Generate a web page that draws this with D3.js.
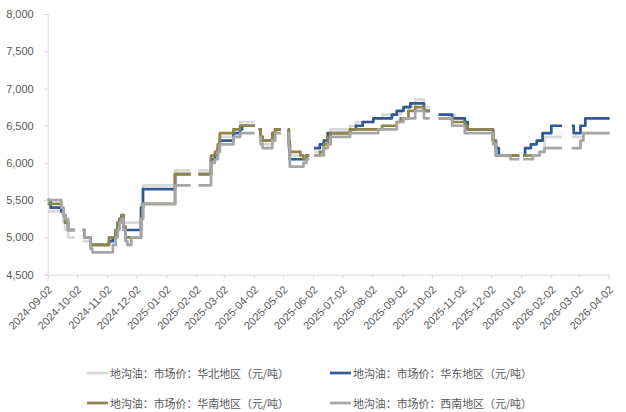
<!DOCTYPE html>
<html>
<head>
<meta charset="utf-8">
<script src="https://cdn.jsdelivr.net/npm/d3@7"></script>
<style>
  body { margin: 0; background: #fff; }
  svg { display: block; }
  .axis text { font-family: "Liberation Sans", Arial, sans-serif; font-size: 11px; fill: #595959; }
  .legend text { font-family: "Noto Sans CJK SC", sans-serif; font-size: 11px; fill: #595959; }
</style>
</head>
<body>
<div id="chart"></div>
<script>
// price data, null = no quote (holidays)
const dates = [
  "2024-09-02","2024-09-05","2024-09-16","2024-09-18","2024-09-20","2024-09-23","2024-09-30","2024-10-03",
  "2024-10-08","2024-10-10","2024-10-16","2024-10-18","2024-11-04","2024-11-08","2024-11-11","2024-11-13",
  "2024-11-15","2024-11-17","2024-11-19","2024-11-21","2024-11-23","2024-11-27","2024-12-07","2024-12-09",
  "2025-01-11","2025-01-27","2025-01-31",
  "2025-02-04","2025-02-17","2025-02-21","2025-02-24","2025-02-26","2025-03-12","2025-03-19","2025-03-21","2025-04-03","2025-04-05",
  "2025-04-07","2025-04-09","2025-04-11","2025-04-21","2025-04-24","2025-04-30","2025-05-03",
  "2025-05-07","2025-05-08","2025-05-09","2025-05-20","2025-05-23","2025-05-26","2025-05-29","2025-05-31",
  "2025-06-03","2025-06-09","2025-06-13","2025-06-17","2025-06-20","2025-07-10","2025-07-16","2025-07-23",
  "2025-08-03","2025-08-08","2025-08-12","2025-08-22","2025-08-27","2025-08-31","2025-09-03","2025-09-08",
  "2025-09-10","2025-09-15","2025-09-24","2025-09-30","2025-10-03",
  "2025-10-09","2025-10-23","2025-10-26","2025-11-05","2025-11-08","2025-12-04","2025-12-07","2025-12-10","2025-12-22","2025-12-31","2026-01-02",
  "2026-01-04","2026-01-06","2026-01-12","2026-01-14","2026-01-18","2026-01-21","2026-01-24","2026-01-26","2026-02-02","2026-02-13","2026-02-18",
  "2026-02-23","2026-02-25","2026-03-04","2026-03-07","2026-03-09","2026-04-03"
];

const huabei = [
  5350,5350,5350,5200,5100,5000,5000,null,
  4950,4950,4900,4900,4950,5000,5100,5200,5250,5250,5200,5200,5200,5200,5450,5700,
  5900,5900,null,
  5900,6100,6150,6250,6350,6450,6550,6550,6550,null,
  6450,6300,6250,6350,6450,6450,null,
  6450,6250,6100,6100,6050,6100,6100,null,
  6150,6250,6300,6400,6450,6500,6550,6550,6600,6600,6650,6650,6650,6700,6750,6750,6750,6850,6750,6750,null,
  6650,6650,6600,6550,6450,6300,6100,6100,6100,6100,null,
  6100,6100,6100,6100,6100,6150,6150,6350,6350,6350,null,
  6350,6350,6350,6400,6400,6400
];

const huadong = [
  5500,5400,5350,5300,5200,5100,5100,null,
  5100,5000,4900,4900,4950,5000,5100,5200,5250,5300,5100,5100,5100,5100,5400,5650,
  5850,5850,null,
  5850,6050,6100,6200,6300,6400,6450,6500,6500,null,
  6450,6350,6300,6400,6450,6450,null,
  6450,6250,6050,6050,6050,6100,6100,null,
  6200,6250,6300,6400,6400,6450,6500,6550,6600,6600,6600,6650,6700,6700,6750,6750,6800,6800,6700,6700,null,
  6650,6600,6600,6550,6450,6300,6200,6100,6100,6100,null,
  6100,6200,6250,6250,6300,6300,6400,6400,6500,6500,null,
  6500,6400,6500,6500,6600,6600
];

const huanan = [
  5450,5450,5400,5300,5200,5100,5100,null,
  5100,5000,4900,4900,5000,5000,5100,5200,5250,5300,5150,5000,5000,5000,5250,5450,
  5850,5850,null,
  5850,6100,6150,6250,6400,6450,6500,6500,6500,null,
  6450,6350,6300,6400,6450,6450,null,
  6450,6300,6150,6100,6050,6100,6100,null,
  6100,6150,6250,6350,6400,6450,6450,6450,6450,6450,6500,6500,6550,6600,6600,6700,6700,6750,6700,6700,null,
  6600,6550,6550,6500,6450,6300,6100,6100,6100,6100,null,
  6100,6100,6100,6100,null,null,null,null,null,null,null,
  null,null,null,null,null,null
];

const xinan = [
  5500,5500,5400,5300,5250,5100,5100,null,
  5100,5000,4850,4800,4800,4900,5000,5100,5200,5250,5100,4950,4900,5000,5250,5450,
  5700,5700,null,
  5700,6000,6050,6150,6250,6350,6400,6400,6400,null,
  6350,6250,6200,6300,6400,6400,null,
  6400,6200,5950,5950,6000,6050,6050,null,
  6100,6100,6200,6250,6350,6400,6400,6400,6400,6450,6450,6450,6550,6550,6600,6600,6600,6700,6600,6600,null,
  6600,6500,6500,6400,6400,6250,6100,6100,6050,6050,null,
  6050,6050,6050,6100,6100,6150,6150,6200,6200,6200,null,
  6200,6200,6300,6400,6400,6400
];

const seriesNames = [
  "地沟油：市场价：华北地区（元/吨）",
  "地沟油：市场价：华东地区（元/吨）",
  "地沟油：市场价：华南地区（元/吨）",
  "地沟油：市场价：西南地区（元/吨）"
];
const seriesColors = ["#d9d9d9", "#2f5a96", "#8f8449", "#a6a6a6"];
const seriesValues = [huabei, huadong, huanan, xinan];

const yTicks = [4500, 5000, 5500, 6000, 6500, 7000, 7500, 8000];
const xTicks = [
  "2024-09-02","2024-10-02","2024-11-02","2024-12-02","2025-01-02","2025-02-02","2025-03-02",
  "2025-04-02","2025-05-02","2025-06-02","2025-07-02","2025-08-02","2025-09-02","2025-10-02",
  "2025-11-02","2025-12-02","2026-01-02","2026-02-02","2026-03-02","2026-04-02"
];

const width = 626, height = 412;
const parse = d3.utcParse("%Y-%m-%d");
const fmt = d3.utcFormat("%Y-%m-%d");

const svg = d3.select('#chart').append('svg')
  .attr('width', width)
  .attr('height', height)
  .style('background', '#fff');

const x = d3.scaleUtc()
  .domain([parse(xTicks[0]), parse(xTicks[xTicks.length - 1])])
  .range([47.7, 608.7]);

const y = d3.scaleLinear()
  .domain([4500, 8000])
  .range([274.7, 14]);

// y axis
svg.append('g')
  .attr('class', 'axis')
  .attr('transform', `translate(${x.range()[0]},0)`)
  .call(d3.axisLeft(y).tickValues(yTicks).tickFormat(d3.format(',')).tickSize(4).tickPadding(10));

// x axis
const xAxis = svg.append('g')
  .attr('class', 'axis')
  .attr('transform', `translate(0,${y.range()[0]})`)
  .call(d3.axisBottom(x).tickValues(xTicks.map(parse)).tickFormat(fmt).tickSize(4));

xAxis.selectAll('text')
  .attr('x', 0)
  .attr('y', 0)
  .attr('dy', '0.35em')
  .attr('text-anchor', 'end')
  .attr('transform', 'translate(2,13) rotate(-45)');

svg.selectAll('.axis .domain, .axis line').attr('stroke', '#d9d9d9');

// lines
const line = d3.line()
  .defined(d => d.value != null)
  .curve(d3.curveStepAfter)
  .x(d => x(d.date))
  .y(d => y(d.value));

seriesValues.forEach((vals, k) => {
  const pts = dates.map((d, i) => ({ date: parse(d), value: vals[i] }));
  svg.append('path')
    .datum(pts)
    .attr('fill', 'none')
    .attr('stroke', seriesColors[k])
    .attr('stroke-width', 2.7)
    .attr('stroke-linejoin', 'round')
    .attr('d', line);
});

// legend, 2 x 2
const legendPos = [[87, 373], [330, 373], [87, 403], [330, 403]];
const legend = svg.append('g').attr('class', 'legend');
seriesNames.forEach((name, k) => {
  const [lx, ly] = legendPos[k];
  legend.append('line')
    .attr('x1', lx).attr('x2', lx + 21)
    .attr('y1', ly).attr('y2', ly)
    .attr('stroke', seriesColors[k])
    .attr('stroke-width', 2.7);
  legend.append('text')
    .attr('x', lx + 23)
    .attr('y', ly)
    .attr('dominant-baseline', 'central')
    .attr('textLength', 179)
    .attr('lengthAdjust', 'spacing')
    .text(name);
});
</script>
</body>
</html>
